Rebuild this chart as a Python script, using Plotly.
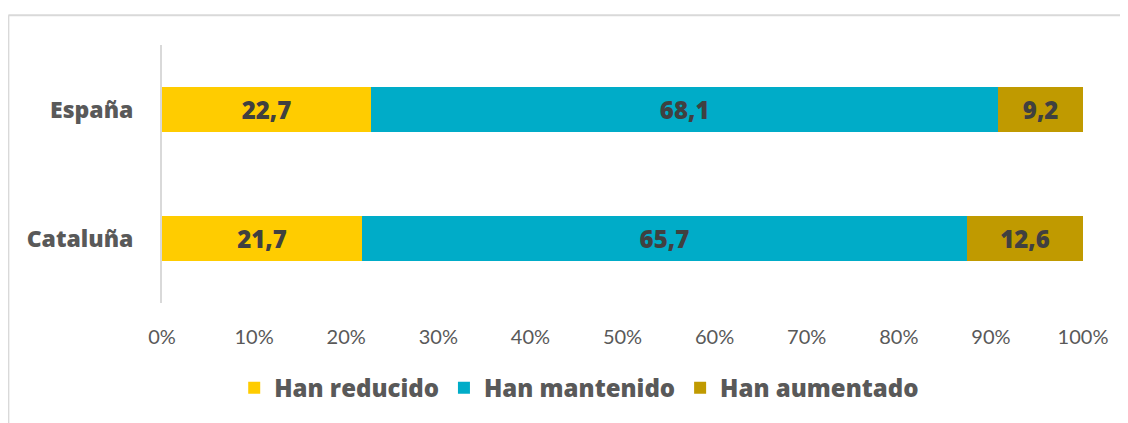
import plotly.graph_objects as go

categories = ["España", "Cataluña"]
series_names = ["Han reducido", "Han mantenido", "Han aumentado"]
reducido = [22.7, 21.7]
mantenido = [68.1, 65.7]
aumentado = [9.2, 12.6]
tick_vals = [0, 10, 20, 30, 40, 50, 60, 70, 80, 90, 100]
tick_labels = ["0%", "10%", "20%", "30%", "40%", "50%", "60%", "70%", "80%", "90%", "100%"]

colors = ["#FFCC00", "#00ACC8", "#C09A00"]
values = [reducido, mantenido, aumentado]
BOLD = "Open Sans"

fig = go.Figure()
for name, vals, col in zip(series_names, values, colors):
    fig.add_trace(go.Bar(
        y=categories, x=vals, name=name, orientation="h",
        marker=dict(color=col, line=dict(width=0)),
        text=[f"{v:.1f}".replace(".", ",") for v in vals],
        textposition="inside", insidetextanchor="middle",
        textfont=dict(family=BOLD, size=24, color="#404040", weight=800),
        width=0.35,
    ))

fig.update_layout(
    barmode="stack",
    width=1112, height=415,
    margin=dict(l=154, r=35, t=37, b=118),
    paper_bgcolor="white", plot_bgcolor="white",
    uniformtext=dict(minsize=10, mode=False),
    xaxis=dict(range=[0, 100], tickvals=tick_vals, ticktext=tick_labels,
               showgrid=False, zeroline=False, showline=False,
               tickfont=dict(family="Lato", size=20, color="#595959"),
               ticks="", ticklabelstandoff=20),
    yaxis=dict(categoryorder="array", categoryarray=categories[::-1],
               showgrid=False, zeroline=False, showline=True,
               linecolor="#D9D9D9", linewidth=2, ticks="",
               tickfont=dict(family=BOLD, size=23, color="#595959", weight=800),
               ticklabelstandoff=22),
    legend=dict(orientation="h", x=0.453, xanchor="center", y=-0.33, yanchor="middle",
                font=dict(family=BOLD, size=24, color="#595959", weight=800),
                traceorder="normal", itemwidth=30),
    showlegend=True,
    shapes=[
        dict(type="line", xref="paper", yref="paper", x0=-0.1668, x1=1.2, y0=1.1154, y1=1.1154,
             line=dict(color="#D9D9D9", width=2)),
        dict(type="line", xref="paper", yref="paper", x0=-0.1668, x1=-0.1668, y0=1.1154, y1=-0.6,
             line=dict(color="#D9D9D9", width=2)),
    ],
)

fig.write_html("out.html")
